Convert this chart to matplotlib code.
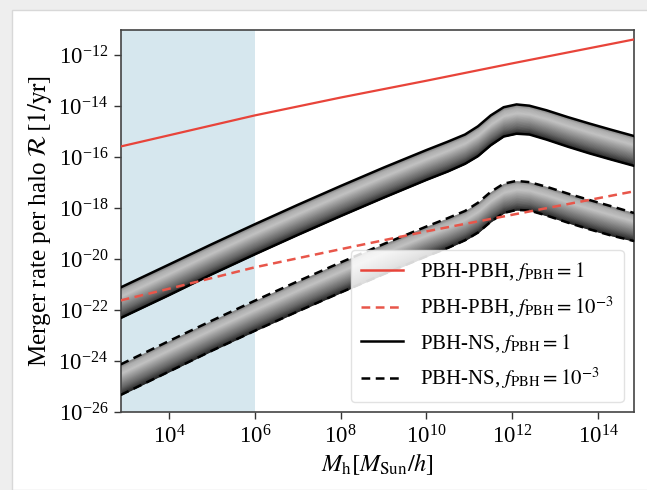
import numpy as np
import matplotlib
matplotlib.use("Agg")
import matplotlib.pyplot as plt
from matplotlib.patches import Rectangle
from matplotlib.lines import Line2D
from matplotlib.ticker import LogLocator, NullLocator, LogFormatterMathtext

plt.rcParams['font.family'] = ['Liberation Serif', 'DejaVu Serif']
plt.rcParams['mathtext.fontset'] = 'stix'

# ---- data (log10 values) ----
logM = [2.87, 4, 5, 6, 7, 8, 9, 10, 10.5, 10.9, 11.2, 11.5, 11.8, 12.1, 12.4, 12.8, 13.3, 13.8, 14.3, 14.84]

ns1_upper = [-21.10, -20.20, -19.40, -18.62, -17.86, -17.12, -16.40, -15.71, -15.38, -15.10,
             -14.78, -14.35, -14.03, -13.92, -13.97, -14.15, -14.42, -14.67, -14.91, -15.16]
ns1_lower = [-22.30, -21.40, -20.58, -19.80, -19.04, -18.30, -17.58, -16.88, -16.55, -16.25,
             -15.95, -15.52, -15.18, -15.07, -15.10, -15.30, -15.58, -15.84, -16.08, -16.33]
ns3_upper = [-24.12, -23.20, -22.40, -21.62, -20.86, -20.12, -19.40, -18.71, -18.38, -18.10,
             -17.78, -17.35, -17.03, -16.92, -16.97, -17.15, -17.42, -17.67, -17.91, -18.18]
ns3_lower = [-25.32, -24.40, -23.58, -22.80, -22.04, -21.30, -20.58, -19.88, -19.55, -19.25,
             -18.95, -18.52, -18.18, -18.06, -18.08, -18.28, -18.56, -18.82, -19.06, -19.28]

logM_pbh = [2.87, 4, 6, 8, 10, 12, 14.84]
pbh1 = [-15.57, -15.13, -14.35, -13.65, -12.99, -12.31, -11.37]
pbh3 = [-21.61, -21.15, -20.31, -19.60, -18.90, -18.25, -17.33]

xlim_log = (2.87, 14.84)
ylim_log = (-26, -11)
span_end_log = 6

labels = [r'PBH-PBH, $f_{\rm PBH} = 1$', r'PBH-PBH, $f_{\rm PBH} = 10^{-3}$',
          r'PBH-NS, $f_{\rm PBH} = 1$', r'PBH-NS, $f_{\rm PBH} = 10^{-3}$']

# ---- figure ----
fig = plt.figure(figsize=(6.47, 4.9), dpi=100)
fig.patch.set_facecolor('#eeeeee')
bg = Rectangle((12/647, 0), 1, 1 - 10/490, transform=fig.transFigure,
               facecolor='white', edgecolor='#d8d8d8', lw=1.0, zorder=-10)
fig.add_artist(bg)
ax = fig.add_axes([120.7/647, 1 - 412.3/490, (634 - 120.7)/647, (412.3 - 30)/490])
ax.set_zorder(1)
ax.set_xscale('log')
ax.set_yscale('log')

M = 10.0 ** np.array(logM)

ax.axvspan(10**xlim_log[0], 10**span_end_log, color='#d6e7ee', lw=0, zorder=0)

t_ctrl = [0.0, 0.25, 0.72, 0.9, 1.0]
g_ctrl = [0.10, 0.38, 0.76, 0.68, 0.50]


def band(lo, up, ls):
    lo = np.array(lo)
    up = np.array(up)
    n = 40
    ts = np.linspace(0, 1, n + 1)
    for k in range(n):
        a = lo + (up - lo) * ts[k]
        b = lo + (up - lo) * ts[k + 1]
        g = np.interp(0.5 * (ts[k] + ts[k + 1]), t_ctrl, g_ctrl)
        ax.fill_between(M, 10**a, 10**b, color=(g, g, g), lw=0.4, edgecolor=(g, g, g), zorder=2)
    ax.plot(M, 10**up, color='black', ls=ls, lw=1.8, zorder=3)
    ax.plot(M, 10**lo, color='black', ls=ls, lw=1.8, zorder=3)


band(ns1_lower, ns1_upper, '-')
band(ns3_lower, ns3_upper, (0, (3.5, 2.2)))

red = '#e8443a'
red2 = '#e8564a'
ax.plot(10.0**np.array(logM_pbh), 10.0**np.array(pbh1), color=red, lw=1.6, zorder=4)
ax.plot(10.0**np.array(logM_pbh), 10.0**np.array(pbh3), color=red2, lw=1.8, ls=(0, (3.5, 2.2)), zorder=4)

ax.set_xlim(10**xlim_log[0], 10**xlim_log[1])
ax.set_ylim(10**ylim_log[0], 10**ylim_log[1])

ax.xaxis.set_major_locator(LogLocator(base=100.0, subs=(1.0,)))
ax.yaxis.set_major_locator(LogLocator(base=100.0, subs=(1.0,)))
ax.xaxis.set_minor_locator(NullLocator())
ax.yaxis.set_minor_locator(NullLocator())
ax.xaxis.set_major_formatter(LogFormatterMathtext(base=10))
ax.yaxis.set_major_formatter(LogFormatterMathtext(base=10))
ax.tick_params(labelsize=16.5, length=5, width=1.0, color='#333333', pad=4)
for s in ax.spines.values():
    s.set_color('#444444')
    s.set_linewidth(1.2)

ax.set_xlabel(r'$M_{\rm h}[M_{\rm Sun}/h]$', fontsize=17.5, labelpad=2)
ax.set_ylabel(r'Merger rate per halo $\mathcal{R}\,[1/{\rm yr}]$', fontsize=18, labelpad=3)

handles = [Line2D([], [], color=red, lw=1.8),
           Line2D([], [], color=red2, lw=1.8, ls=(0, (3.5, 2.2))),
           Line2D([], [], color='black', lw=1.8),
           Line2D([], [], color='black', lw=1.8, ls=(0, (3.5, 2.2)))]
leg = ax.legend(handles, labels, loc='lower right', fontsize=15, frameon=True,
                fancybox=True, framealpha=0.85, edgecolor='#dddddd',
                borderaxespad=0.5, handlelength=2.0, labelspacing=0.55, borderpad=0.5)
leg.set_zorder(10)

fig.savefig('out.png', dpi=100, facecolor=fig.get_facecolor())
